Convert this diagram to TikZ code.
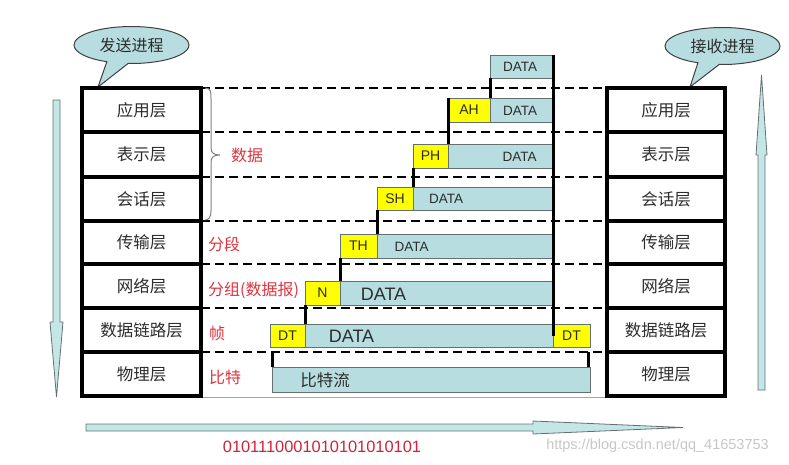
\documentclass[tikz,border=0pt]{standalone}
\usepackage{fontspec}
\setmainfont{Liberation Sans}
\newfontfamily\cjk{Noto Sans CJK SC}
\usetikzlibrary{shapes.callouts}
\definecolor{lb}{RGB}{183,221,224}
\definecolor{ab}{RGB}{196,230,231}
\definecolor{ye}{RGB}{255,255,0}
\definecolor{bd}{RGB}{100,112,112}
\definecolor{rd}{RGB}{222,52,62}
\definecolor{rd2}{RGB}{204,36,56}
\definecolor{tx}{RGB}{45,45,45}
\begin{document}
\begin{tikzpicture}[x=1pt,y=-1pt,
  layer/.style={draw=black, line width=4pt, fill=white, inner sep=0pt, outer sep=0pt,
    text=tx, font=\cjk\fontsize{16.5}{17}\selectfont},
  lft/.style={layer, minimum width=119pt},
  rgt/.style={layer, minimum width=118pt},
  dashln/.style={line width=1.8pt, dash pattern=on 9pt off 5pt},
  dbox/.style={draw=bd, fill=lb, line width=0.8pt, inner sep=0pt, outer sep=0pt, anchor=north west},
  hbox/.style={dbox, fill=ye, text=tx, font=\fontsize{14}{14}\selectfont},
  dtxt/.style={inner sep=0pt, text=tx, font=\fontsize{13.5}{14}\selectfont},
  btxt/.style={inner sep=0pt, text=tx, font=\fontsize{18}{18}\selectfont},
  link/.style={line width=3pt, black},
  redlbl/.style={inner sep=0pt, anchor=west, text=rd, font=\cjk\fontsize{16}{16}\selectfont},
  bubble/.style={ellipse callout, draw=black!75, line width=1pt, fill=lb, inner sep=0pt,
    minimum width=115pt, minimum height=37pt, callout pointer arc=22, text=tx,
    font=\cjk\fontsize{16}{16}\selectfont},
  arrowshape/.style={fill=ab, draw=bd, line width=0.8pt, line join=miter}
]
\useasboundingbox (0,0) rectangle (789,464);

% callouts
\node[bubble, callout absolute pointer={(98,87)}] (cs) at (131.5,45) {发送进程};
\node[bubble, callout absolute pointer={(690,87)}] (cr) at (722.5,46) {接收进程};

% side arrows
\draw[arrowshape] (53,100) -- (60,100) -- (60,322) -- (63,322) -- (56.5,397) -- (50,322) -- (53,322) -- cycle;
\draw[arrowshape] (758,390) -- (765,390) -- (765,155) -- (767,155) -- (761.5,75) -- (756,155) -- (758,155) -- cycle;
\draw[arrowshape] (86,424) -- (533,424) -- (533,421) -- (683,427.5) -- (533,434) -- (533,431) -- (86,431) -- cycle;

% dashed lines first (under boxes)
\coordinate (L1) at (201,88);  \coordinate (R1) at (607,88);
\coordinate (L2) at (201,132); \coordinate (R2) at (607,132);
\coordinate (L3) at (201,177); \coordinate (R3) at (607,177);
\coordinate (L4) at (201,221); \coordinate (R4) at (607,221);
\coordinate (L5) at (201,264); \coordinate (R5) at (607,264);
\coordinate (L6) at (201,308); \coordinate (R6) at (607,308);
\coordinate (L7) at (201,352); \coordinate (R7) at (607,352);
\foreach \i in {1,...,7} {\draw[dashln] (L\i) -- (R\i);}
\coordinate (LB) at (201,397); \coordinate (RB) at (607,397);
\draw[black!35, line width=0.8pt] (LB) -- (RB);

% left stack
\node[lft, minimum height=44pt] (l1) at (141.5,110)   {应用层};
\node[lft, minimum height=45pt] (l2) at (141.5,154.5) {表示层};
\node[lft, minimum height=44pt] (l3) at (141.5,199)   {会话层};
\node[lft, minimum height=43pt] (l4) at (141.5,242.5) {传输层};
\node[lft, minimum height=44pt] (l5) at (141.5,286)   {网络层};
\node[lft, minimum height=44pt] (l6) at (141.5,330)   {数据链路层};
\node[lft, minimum height=44pt] (l7) at (141.5,374)   {物理层};
% right stack
\node[rgt, minimum height=44pt] (r1) at (666,110)   {应用层};
\node[rgt, minimum height=45pt] (r2) at (666,154.5) {表示层};
\node[rgt, minimum height=44pt] (r3) at (666,199)   {会话层};
\node[rgt, minimum height=43pt] (r4) at (666,242.5) {传输层};
\node[rgt, minimum height=44pt] (r5) at (666,286)   {网络层};
\node[rgt, minimum height=44pt] (r6) at (666,330)   {数据链路层};
\node[rgt, minimum height=44pt] (r7) at (666,374)   {物理层};

% brace and red labels
\draw[black!50, line width=1pt] (205,88) .. controls (211,88) and (211,92) .. (211,99)
  -- (211,148) .. controls (211,153) and (214,155) .. (220,155)
  .. controls (214,155) and (211,157) .. (211,162)
  -- (211,211) .. controls (211,218) and (208,220) .. (205,220);
\node[redlbl] (n1) at (231,155) {数据};
\node[redlbl] (n2) at (208,244) {分段};
\node[redlbl] (n3) at (208,290) {分组(数据报)};
\node[redlbl] (n4) at (209,333) {帧};
\node[redlbl] (n5) at (209,377) {比特};

% data boxes
\node[dbox, minimum width=63pt, minimum height=23pt] (d0) at (490,55) {};
\node[hbox, minimum width=42pt, minimum height=24pt] (ah) at (448,98) {AH};
\node[dbox, minimum width=63pt, minimum height=24pt] (d1) at (490,98) {};
\node[hbox, minimum width=35pt, minimum height=24pt] (ph) at (413,144) {PH};
\node[dbox, minimum width=105pt, minimum height=24pt] (d2) at (448,144) {};
\node[hbox, minimum width=36pt, minimum height=23pt] (sh) at (377,187) {SH};
\node[dbox, minimum width=140pt, minimum height=23pt] (d3) at (413,187) {};
\node[hbox, minimum width=37pt, minimum height=24pt] (th) at (340,234) {TH};
\node[dbox, minimum width=176pt, minimum height=24pt] (d4) at (377,234) {};
\node[hbox, minimum width=35pt, minimum height=24pt] (nh) at (305,281) {N};
\node[dbox, minimum width=213pt, minimum height=24pt] (d5) at (340,281) {};
\node[hbox, minimum width=35pt, minimum height=23pt] (dt1) at (270,324) {DT};
\node[dbox, minimum width=248pt, minimum height=23pt] (d6) at (305,324) {};
\node[hbox, minimum width=37pt, minimum height=23pt] (dt2) at (553,324) {DT};
\node[dbox, minimum width=318pt, minimum height=25pt] (bits) at (272,367) {};

% texts in data boxes
\node[dtxt] (t0) at (520,67) {DATA};
\node[dtxt] (t1) at (520,110.5) {DATA};
\node[dtxt] (t2) at (519.5,156.5) {DATA};
\node[dtxt] (t3) at (446,199) {DATA};
\node[dtxt] (t4) at (411.5,246.5) {DATA};
\node[btxt] (t5) at (383.5,294) {DATA};
\node[btxt] (t6) at (351.5,336) {DATA};
\node[inner sep=0pt, text=tx, font=\cjk\fontsize{16.5}{17}\selectfont] (t7) at (325,380) {比特流};

% connectors
\draw[link] (d0.north east) -- (dt2.west);
\draw[link] (d0.south west) -- (ah.north east);
\draw[link] (ah.north west) -- (ph.north east);
\draw[link] (ph.south west) -- (sh.north east);
\draw[link] (sh.south west) -- (th.north east);
\draw[link] (th.south west) -- (nh.north east);
\draw[link] (nh.south west) -- (dt1.north east);
\draw[link] (bits.north west) -- (bits.north west |- L7);
\draw[link] ([xshift=-1.5pt]bits.north east) -- ([xshift=-1.5pt]bits.north east |- L7);

% bottom texts
\node[inner sep=0pt, text=rd2, font=\fontsize{16.4}{17}\selectfont] (bin) at (322,447) {0101110001010101010101};
\node[inner sep=0pt, text=black!22, font=\fontsize{14.5}{15}\selectfont] (wm) at (657.5,446) {https://blog.csdn.net/qq\_41653753};
\end{tikzpicture}
\end{document}
